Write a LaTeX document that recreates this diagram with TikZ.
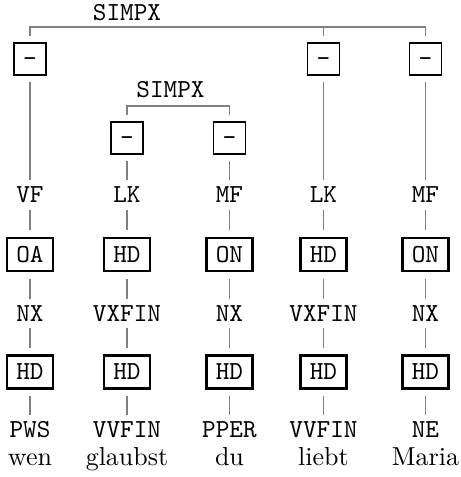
\documentclass[tikz,border=0pt]{standalone}
\usepackage{tikz}
\begin{document}
\begin{tikzpicture}[x=0.385pt,y=-0.385pt,
  lab/.style={font=\ttfamily, inner sep=0pt, text height=6.1pt, text depth=0pt},
  word/.style={font=\rmfamily, inner sep=0pt, anchor=base},
  dashbox/.style={draw, line width=0.7pt, font=\ttfamily, inner sep=0pt,
    minimum width=12.3pt, minimum height=12.3pt, text height=6.1pt, text depth=0pt},
  fnbox/.style={draw, line width=0.85pt, font=\ttfamily, inner sep=0pt,
    minimum width=17.7pt, minimum height=12.7pt, text height=6.1pt, text depth=0pt},
  edge/.style={draw=black!50, line width=0.45pt, shorten >=2.5pt, shorten <=2.5pt},
  bar/.style={draw=black!50, line width=0.45pt}]
\useasboundingbox (0,0) rectangle (461,477);

% column positions
\def\ca{30}\def\cb{127}\def\cc{229.5}\def\cd{323.5}\def\ce{425.5}

% outer clause
\node[lab] (s1) at (127,13) {SIMPX};
\node[dashbox] (t1) at (\ca,59) {-};
\node[dashbox] (t4) at (\cd,59) {-};
\node[dashbox] (t5) at (\ce,59) {-};
\coordinate (bar1) at (0,27);
\draw[bar] ([yshift=2.3pt]t1.north) -- (t1.north |- bar1) -- (t5.north |- bar1) -- ([yshift=2.3pt]t5.north);
\draw[bar] (t4.north |- bar1) -- ([yshift=2.3pt]t4.north);

% embedded clause
\node[lab] (s2) at (170.5,89.5) {SIMPX};
\node[dashbox] (t2) at (\cb,138) {-};
\node[dashbox] (t3) at (\cc,138) {-};
\coordinate (bar2) at (0,106);
\draw[bar] ([yshift=2.3pt]t2.north) -- (t2.north |- bar2) -- (t3.north |- bar2) -- ([yshift=2.3pt]t3.north);

% topological fields
\node[lab] (f1) at (\ca,195) {VF};
\node[lab] (f2) at (\cb,195) {LK};
\node[lab] (f3) at (\cc,195) {MF};
\node[lab] (f4) at (\cd,195) {LK};
\node[lab] (f5) at (\ce,195) {MF};

% grammatical functions
\node[fnbox] (g1) at (\ca,254.5) {OA};
\node[fnbox] (g2) at (\cb,254.5) {HD};
\node[fnbox] (g3) at (\cc,254.5) {ON};
\node[fnbox] (g4) at (\cd,254.5) {HD};
\node[fnbox] (g5) at (\ce,254.5) {ON};

% phrases
\node[lab] (p1) at (\ca,313.5) {NX};
\node[lab] (p2) at (\cb,313.5) {VXFIN};
\node[lab] (p3) at (\cc,313.5) {NX};
\node[lab] (p4) at (\cd,313.5) {VXFIN};
\node[lab] (p5) at (\ce,313.5) {NX};

% heads
\node[fnbox] (h1) at (\ca,372) {HD};
\node[fnbox] (h2) at (\cb,372) {HD};
\node[fnbox] (h3) at (\cc,372) {HD};
\node[fnbox] (h4) at (\cd,372) {HD};
\node[fnbox] (h5) at (\ce,372) {HD};

% part-of-speech tags
\node[lab] (q1) at (\ca,430) {PWS};
\node[lab] (q2) at (\cb,430) {VVFIN};
\node[lab] (q3) at (\cc,430) {PPER};
\node[lab] (q4) at (\cd,430) {VVFIN};
\node[lab] (q5) at (\ce,430) {NE};

% tokens
\node[word] (w1) at (\ca,465) {wen};
\node[word] (w2) at (\cb,465) {glaubst};
\node[word] (w3) at (\cc,465) {du};
\node[word] (w4) at (\cd,465) {liebt};
\node[word] (w5) at (\ce,465) {Maria};

% edges
\foreach \i in {1,2,3,4,5} {
  \draw[edge] (t\i) -- (f\i);
  \draw[edge] (f\i) -- (g\i);
  \draw[edge] (g\i) -- (p\i);
  \draw[edge] (p\i) -- (h\i);
  \draw[edge] (h\i) -- (q\i);
}
\end{tikzpicture}
\end{document}
